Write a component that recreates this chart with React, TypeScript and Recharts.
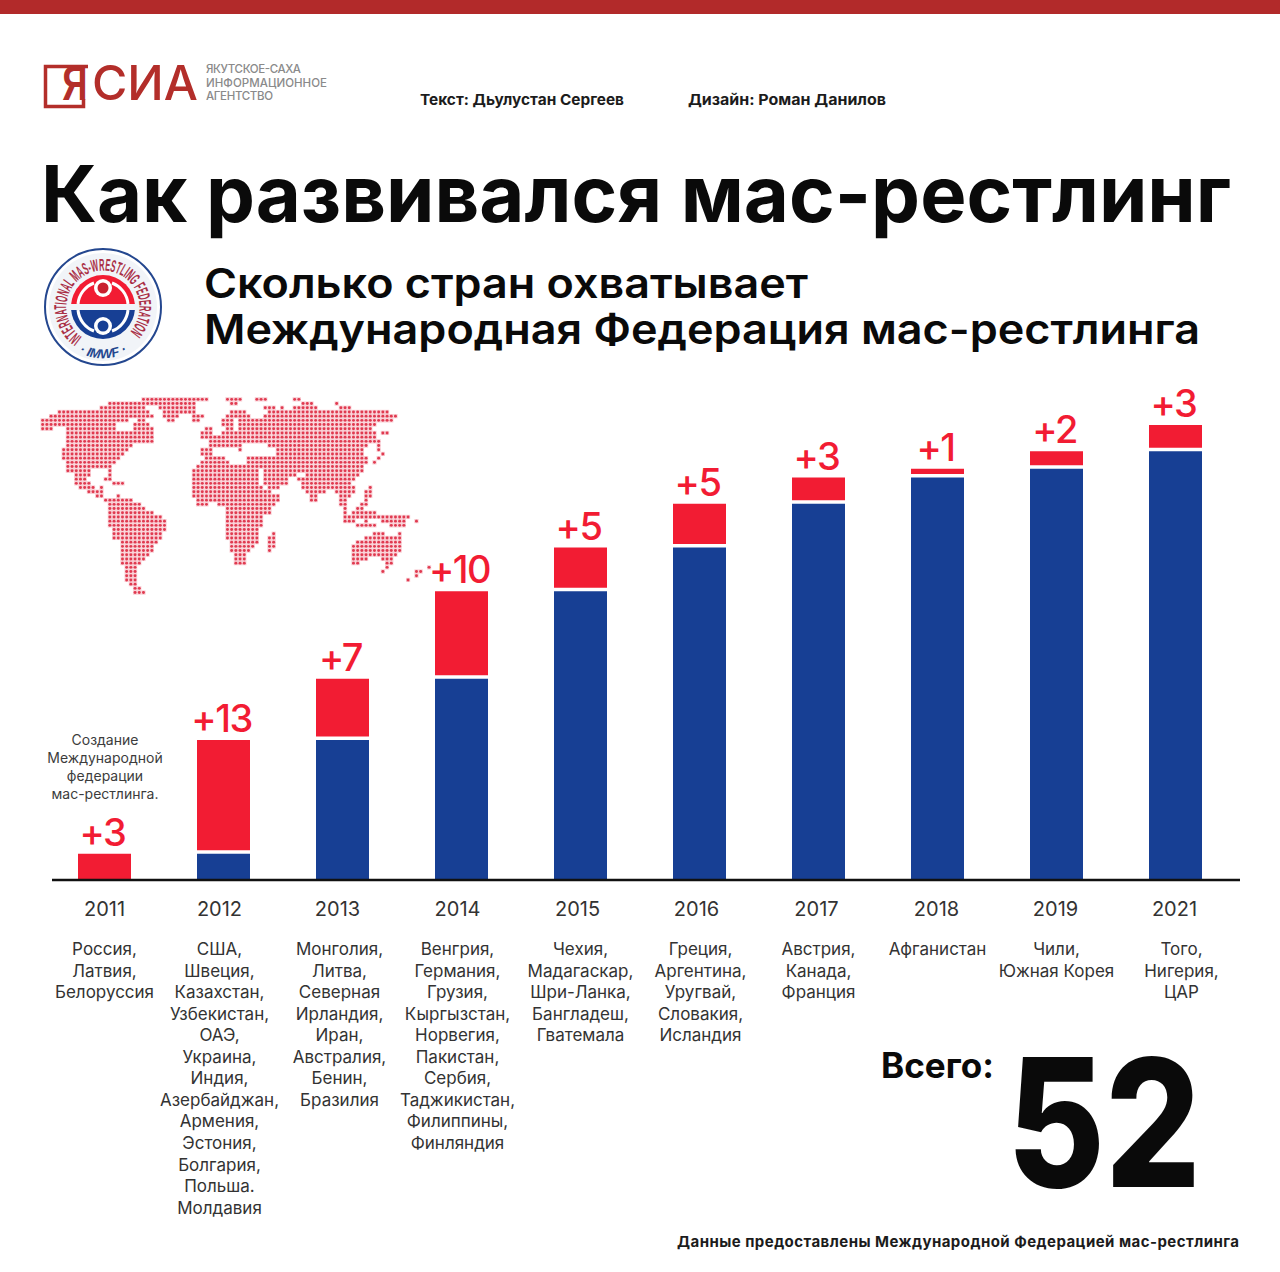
import { BarChart, Bar, XAxis, YAxis, LabelList } from 'recharts';

const years = ['2011', '2012', '2013', '2014', '2015', '2016', '2017', '2018', '2019', '2021'];
const previousTotal = [0, 3, 16, 23, 33, 38, 43, 46, 47, 49];
const added = [3, 13, 7, 10, 5, 5, 3, 1, 2, 3];
const countries = [
  ['Россия,', 'Латвия,', 'Белоруссия'],
  ['США,', 'Швеция,', 'Казахстан,', 'Узбекистан,', 'ОАЭ,', 'Украина,', 'Индия,', 'Азербайджан,', 'Армения,', 'Эстония,', 'Болгария,', 'Польша.', 'Молдавия'],
  ['Монголия,', 'Литва,', 'Северная', 'Ирландия,', 'Иран,', 'Австралия,', 'Бенин,', 'Бразилия'],
  ['Венгрия,', 'Германия,', 'Грузия,', 'Кыргызстан,', 'Норвегия,', 'Пакистан,', 'Сербия,', 'Таджикистан,', 'Филиппины,', 'Финляндия'],
  ['Чехия,', 'Мадагаскар,', 'Шри-Ланка,', 'Бангладеш,', 'Гватемала'],
  ['Греция,', 'Аргентина,', 'Уругвай,', 'Словакия,', 'Исландия'],
  ['Австрия,', 'Канада,', 'Франция'],
  ['Афганистан'],
  ['Чили,', 'Южная Корея'],
  ['Того,', 'Нигерия,', 'ЦАР'],
];
const foundingNote = ['Создание', 'Международной', 'федерации', 'мас-рестлинга.'];

const rows = years.map((year, i) => ({ year, previous: previousTotal[i], added: added[i] }));

// small per-column shifts of the labels against the bar centre
const yearNudge = [0, -4, -5, -4, -3, -3, -2, -1, -1, -1];
const listNudge = [0, -4, -3, -4, 0, 1, 0, 0, 0, 6];

const mapRows: number[][] = [
  [340, 530, 590, 630, 675, 705, 785, 805],
  [240, 500, 600, 620, 810, 850, 910, 915],
  [215, 340, 390, 500, 700, 730, 750, 755, 790, 860, 930, 965],
  [90, 360, 400, 500, 600, 650, 720, 1080],
  [60, 370, 400, 440, 490, 520, 585, 660, 700, 1105],
  [38, 300, 320, 350, 410, 435, 490, 505, 575, 605, 625, 1090],
  [38, 260, 310, 360, 575, 605, 625, 1040],
  [38, 70, 110, 260, 310, 365, 525, 545, 590, 605, 625, 1020],
  [110, 370, 515, 545, 575, 1040, 1060, 1080],
  [110, 370, 510, 1040],
  [110, 370, 535, 1050],
  [110, 310, 535, 640, 720, 1010, 1040, 1050],
  [100, 290, 510, 550, 620, 640, 740, 1005, 1045, 1050],
  [100, 280, 510, 540, 745, 1000, 1050, 1055],
  [100, 275, 520, 590, 650, 1015, 1045, 1050],
  [110, 260, 510, 600, 650, 1010, 1025, 1040],
  [110, 245, 495, 680, 690, 1000],
  [115, 185, 230, 245, 490, 680, 700, 1000],
  [130, 175, 240, 245, 485, 680, 700, 800, 830, 990],
  [130, 170, 225, 245, 485, 690, 700, 770, 800, 970],
  [140, 180, 250, 280, 485, 690, 705, 770, 815, 960],
  [150, 195, 205, 220, 485, 700, 715, 750, 820, 895, 905, 970, 1015, 1020],
  [170, 220, 485, 720, 825, 880, 920, 970, 1010, 1020],
  [200, 220, 265, 270, 490, 745, 835, 865, 925, 965, 1010, 1030],
  [225, 305, 495, 745, 835, 855, 925, 945, 1005, 1010],
  [235, 330, 495, 530, 565, 730, 925, 945, 995, 1010],
  [235, 340, 590, 725, 935, 940, 975, 1005],
  [235, 370, 590, 720, 935, 950, 970, 1040],
  [235, 395, 590, 700, 945, 1135],
  [235, 410, 590, 695, 945, 975, 1010, 1015, 1060, 1130, 1150, 1155],
  [235, 410, 590, 695, 985, 1040, 1085, 1130],
  [245, 405, 590, 690],
  [250, 395, 590, 690, 725, 730, 1025, 1065, 1100, 1105],
  [250, 390, 590, 690, 715, 730, 1000, 1115],
  [270, 385, 595, 690, 715, 730, 985, 1115],
  [275, 375, 600, 670, 710, 730, 970, 1115],
  [275, 370, 600, 660, 715, 720, 970, 1115],
  [275, 355, 610, 650, 970, 1100],
  [275, 345, 610, 645, 970, 1010, 1050, 1085],
  [275, 335, 610, 645, 970, 985, 1065, 1085],
  [285, 320, 1065, 1070, 1190, 1195],
  [285, 320, 1060, 1065, 1160, 1175],
  [285, 320, 1150, 1155],
  [285, 320, 1125, 1140],
  [295, 320],
  [305, 330],
  [310, 345],
];

const FONT = 'Inter, sans-serif';
const RED = '#f21c33';
const BLUE = '#173f94';
const LOGO_RED = '#b32e2a';

function WorldMap() {
  const dots: { x: number; y: number }[] = [];
  mapRows.forEach((spans, r) => {
    for (let s = 0; s < spans.length; s += 2) {
      // span ends were read at the dot's outer edge
      const from = Math.round((spans[s] + 4 - 38) / 12.6);
      const to = Math.max(from, Math.round((spans[s + 1] - 4 - 38) / 12.6));
      for (let c = from; c <= to; c++) {
        dots.push({ x: 30 + (38 + 12.6 * c) / 3, y: 390 + (28 + 12.6 * r) / 3 });
      }
    }
  });
  return (
    <g>
      {dots.map((d, i) => (
        <g key={i}>
          <rect x={d.x - 2.1} y={d.y - 2.1} width={4.2} height={4.2} fill="#f8c8cf" />
          <circle cx={d.x} cy={d.y} r={1.45} fill="#e03a50" />
        </g>
      ))}
    </g>
  );
}

function YsiaLogo() {
  return (
    <g>
      <path d="M88 66.5 H45.5 V106.5 H83.5 V99" fill="none" stroke={LOGO_RED} strokeWidth={3.5} />
      <text x={62} y={100} fontFamily={FONT} fontSize={46} fontWeight={600} fill={LOGO_RED} textLength={26} lengthAdjust="spacingAndGlyphs">Я</text>
      <text x={92} y={100} fontFamily={FONT} fontSize={48} fontWeight={500} fill={LOGO_RED} textLength={106} lengthAdjust="spacingAndGlyphs">СИА</text>
      <text x={206} y={73} fontFamily={FONT} fontSize={11.5} fontWeight={500} fill="#8a8a8a" textLength={95}>ЯКУТСКОЕ-САХА</text>
      <text x={206} y={86.5} fontFamily={FONT} fontSize={11.5} fontWeight={500} fill="#8a8a8a" textLength={121}>ИНФОРМАЦИОННОЕ</text>
      <text x={206} y={100} fontFamily={FONT} fontSize={11.5} fontWeight={500} fill="#8a8a8a" textLength={67}>АГЕНТСТВО</text>
    </g>
  );
}

function EmblemHalf({ dir, fill }: { dir: number; fill: string }) {
  const cx = 103;
  const cy = 307;
  const sweepLeft = dir < 0 ? 1 : 0;
  const sweepRight = dir < 0 ? 0 : 1;
  return (
    <g>
      <path d={`M${cx - 25} ${cy + dir * 3} A25 25 0 0 ${sweepLeft} ${cx - 9} ${cy + dir * 24}`} fill="none" stroke="#fff" strokeWidth={3} />
      <path d={`M${cx + 25} ${cy + dir * 3} A25 25 0 0 ${sweepRight} ${cx + 9} ${cy + dir * 24}`} fill="none" stroke="#fff" strokeWidth={3} />
      <circle cx={cx} cy={cy + dir * 19} r={9} fill="#fff" />
      <circle cx={cx} cy={cy + dir * 19} r={5.5} fill={fill} />
    </g>
  );
}

function FederationLogo() {
  const cx = 103;
  const cy = 307;
  return (
    <g>
      <defs>
        <path id="ringTop" d={`M${cx - 21} ${cy + 30} A36.5 36.5 0 1 1 ${cx + 21} ${cy + 30}`} />
        <path id="ringBottom" d={`M${cx - 32} ${cy + 40} A51 51 0 0 0 ${cx + 32} ${cy + 40}`} />
        <clipPath id="topHalf"><rect x={cx - 40} y={cy - 40} width={80} height={37} /></clipPath>
        <clipPath id="bottomHalf"><rect x={cx - 40} y={cy + 3} width={80} height={38} /></clipPath>
      </defs>
      <circle cx={cx} cy={cy} r={58} fill="#fff" stroke="#24478f" strokeWidth={2} />
      <circle cx={cx} cy={cy} r={54} fill="#f1f4f8" />
      <text fontFamily="'Liberation Sans Narrow', 'Liberation Sans', sans-serif" fontWeight={700} fontSize={17} fill="#a92e45" textLength={176} lengthAdjust="spacingAndGlyphs">
        <textPath href="#ringTop" textLength={176} lengthAdjust="spacingAndGlyphs">INTERNATIONAL MAS-WRESTLING FEDERATION</textPath>
      </text>
      <text fontFamily="'Liberation Sans', sans-serif" fontWeight={700} fontStyle="italic" fontSize={13} fill="#24478f" textAnchor="middle">
        <textPath href="#ringBottom" startOffset="50%">· IMWF ·</textPath>
      </text>
      <circle cx={cx} cy={cy} r={32} fill={RED} clipPath="url(#topHalf)" />
      <circle cx={cx} cy={cy} r={32} fill={BLUE} clipPath="url(#bottomHalf)" />
      <EmblemHalf dir={-1} fill="#c9202f" />
      <EmblemHalf dir={1} fill={BLUE} />
    </g>
  );
}

function Backdrop() {
  return (
    <svg width={1280} height={1272} style={{ position: 'absolute', left: 0, top: 0 }}>
      <rect x={0} y={0} width={1280} height={14} fill="#b22a2a" />
      <YsiaLogo />
      <text x={420} y={105} fontFamily={FONT} fontSize={15} fontWeight={700} fill="#1c1c1c" textLength={204} lengthAdjust="spacingAndGlyphs">Текст: Дьулустан Сергеев</text>
      <text x={688} y={105} fontFamily={FONT} fontSize={15} fontWeight={700} fill="#1c1c1c" textLength={198} lengthAdjust="spacingAndGlyphs">Дизайн: Роман Данилов</text>
      <text x={41} y={222} fontFamily={FONT} fontSize={78} fontWeight={700} fill="#0a0a0a" textLength={1190} lengthAdjust="spacingAndGlyphs">Как развивался мас-рестлинг</text>
      <FederationLogo />
      <text x={204} y={298} fontFamily={FONT} fontSize={41} fontWeight={600} fill="#0a0a0a" textLength={604} lengthAdjust="spacingAndGlyphs">Сколько стран охватывает</text>
      <text x={204} y={344} fontFamily={FONT} fontSize={41} fontWeight={600} fill="#0a0a0a" textLength={996} lengthAdjust="spacingAndGlyphs">Международная Федерация мас-рестлинга</text>
      <WorldMap />
      {foundingNote.map((line, i) => (
        <text key={line} x={105} y={745 + i * 18} textAnchor="middle" fontFamily={FONT} fontSize={14} fill="#3c3c3c">{line}</text>
      ))}
      <text x={881} y={1078} fontFamily={FONT} fontSize={35} fontWeight={700} fill="#0a0a0a" textLength={113} lengthAdjust="spacingAndGlyphs">Всего:</text>
      <text x={1007} y={1187} fontFamily={FONT} fontSize={178} fontWeight={800} fill="#0a0a0a" textLength={194} lengthAdjust="spacingAndGlyphs">52</text>
      <text x={677} y={1247} fontFamily={FONT} fontSize={15} fontWeight={700} fill="#1c1c1c" textLength={562}>Данные предоставлены Международной Федерацией мас-рестлинга</text>
    </svg>
  );
}

function YearTick({ x, y, index }: any) {
  return (
    <g fontFamily={FONT} fill="#333" textAnchor="middle">
      <text x={x + yearNudge[index]} y={y + 28} fontSize={20}>{years[index]}</text>
      {countries[index].map((name, i) => (
        <text key={name} x={x + listNudge[index]} y={y + 67 + i * 21.55} fontSize={17}>{name}</text>
      ))}
    </g>
  );
}

// the white gap between new and old countries is cut from the red part
function AddedBar({ x, y, width, height, payload }: any) {
  const gap = payload.previous > 0 ? 3.5 : 0;
  return <rect x={x} y={y} width={width} height={height - gap} fill={RED} />;
}

export default function App() {
  return (
    <div style={{ position: 'absolute', left: 0, top: 0, width: 1280, height: 1272, background: '#fff' }}>
      <Backdrop />
      <div style={{ position: 'absolute', left: 0, top: 0 }}>
        <BarChart
          width={1280}
          height={1272}
          data={rows}
          barSize={53}
          margin={{ top: 425, right: 40, bottom: 0, left: 52 }}
        >
          <XAxis
            dataKey="year"
            height={392}
            interval={0}
            padding={{ left: -7, right: 5 }}
            tickLine={false}
            axisLine={{ stroke: '#111', strokeWidth: 2.5 }}
            tick={<YearTick />}
          />
          <YAxis hide domain={[0, 52]} />
          <Bar dataKey="previous" stackId="total" fill={BLUE} isAnimationActive={false} />
          <Bar dataKey="added" stackId="total" fill={RED} shape={<AddedBar />} isAnimationActive={false}>
            <LabelList
              dataKey="added"
              position="top"
              offset={8}
              dx={-2}
              formatter={(v: any) => `+${v}`}
              fill={RED}
              fontFamily={FONT}
              fontSize={38}
              fontWeight={500}
              letterSpacing={-1.5}
            />
          </Bar>
        </BarChart>
      </div>
    </div>
  );
}
